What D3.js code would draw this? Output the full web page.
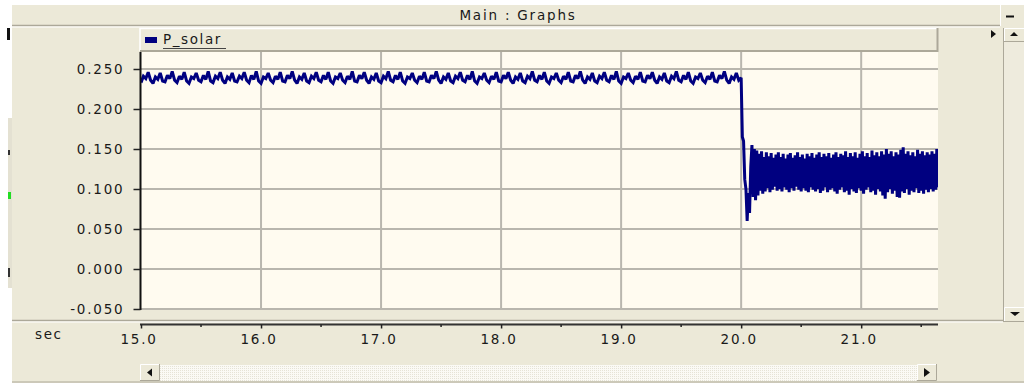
<!DOCTYPE html>
<html>
<head>
<meta charset="utf-8">
<script src="https://cdn.jsdelivr.net/npm/d3@7"></script>
<style>
  html, body { margin: 0; padding: 0; background: #ffffff; overflow: hidden; }
  svg { display: block; }
  text { font-family: "DejaVu Sans", Verdana, sans-serif; fill: #1a1a1a; }
</style>
</head>
<body>
<script>
// ---- data -------------------------------------------------------------
const seriesName = "P_solar";
const titleText = "Main : Graphs";
const xUnit = "sec";

// P_solar sampled every 0.02 s from 15.00 s to 20.00 s
const preStart = 15.0;
const preStep = 0.02;
const preValues = [
  0.233,0.241,0.238,0.246,0.236, 0.232,0.240,0.237,0.245,0.235,
  0.234,0.242,0.238,0.247,0.236, 0.233,0.241,0.237,0.246,0.235,
  0.232,0.240,0.238,0.245,0.236, 0.234,0.242,0.237,0.247,0.235,
  0.233,0.241,0.238,0.246,0.236, 0.232,0.240,0.237,0.245,0.235,
  0.234,0.241,0.238,0.246,0.236, 0.233,0.242,0.237,0.247,0.235,
  0.232,0.240,0.238,0.245,0.236, 0.233,0.241,0.237,0.246,0.235,
  0.234,0.242,0.238,0.247,0.236, 0.232,0.240,0.237,0.245,0.235,
  0.233,0.241,0.238,0.246,0.236, 0.234,0.242,0.237,0.246,0.235,
  0.232,0.240,0.238,0.245,0.236, 0.233,0.241,0.237,0.247,0.235,
  0.234,0.242,0.238,0.246,0.236, 0.232,0.240,0.237,0.245,0.235,
  0.233,0.241,0.238,0.247,0.236, 0.234,0.242,0.237,0.246,0.235,
  0.232,0.240,0.238,0.245,0.236, 0.233,0.241,0.237,0.246,0.235,
  0.234,0.242,0.238,0.247,0.236, 0.232,0.240,0.237,0.245,0.235,
  0.233,0.241,0.238,0.246,0.236, 0.234,0.242,0.237,0.247,0.235,
  0.232,0.240,0.238,0.245,0.236, 0.233,0.241,0.237,0.246,0.235,
  0.234,0.242,0.238,0.246,0.236, 0.232,0.240,0.237,0.245,0.235,
  0.233,0.241,0.238,0.247,0.236, 0.234,0.242,0.237,0.246,0.235,
  0.232,0.240,0.238,0.245,0.236, 0.233,0.241,0.237,0.246,0.235,
  0.234,0.242,0.238,0.247,0.236, 0.232,0.240,0.237,0.245,0.235,
  0.233,0.241,0.238,0.246,0.236, 0.234,0.242,0.237,0.247,0.235,
  0.232,0.240,0.238,0.245,0.236, 0.233,0.241,0.237,0.246,0.235,
  0.234,0.242,0.238,0.246,0.236, 0.232,0.240,0.237,0.245,0.235,
  0.233,0.241,0.238,0.247,0.236, 0.234,0.242,0.237,0.246,0.235,
  0.232,0.240,0.238,0.245,0.236, 0.233,0.241,0.237,0.246,0.235,
  0.234,0.242,0.238,0.247,0.236, 0.232,0.240,0.237,0.245,0.236,
  0.239
];

// P_solar sampled every 0.01 s from 20.01 s to 21.64 s (after the drop)
const postStart = 20.01;
const postStep = 0.01;
const postValues = [
  0.165,0.160,0.112,0.100,0.060,0.095,0.070,0.128,0.155,0.090,0.150,0.086,0.148,0.092,
  0.144,0.098, 0.147,0.094, 0.140,0.097, 0.146,0.101, 0.141,0.096,
  0.145,0.099, 0.139,0.103, 0.143,0.098, 0.146,0.100, 0.140,0.097,
  0.144,0.102, 0.138,0.099, 0.143,0.096, 0.145,0.101, 0.139,0.098,
  0.142,0.103, 0.146,0.099, 0.140,0.097, 0.143,0.101, 0.138,0.098,
  0.144,0.096, 0.141,0.102, 0.145,0.099, 0.139,0.097, 0.143,0.100,
  0.146,0.095, 0.140,0.098, 0.144,0.102, 0.141,0.096, 0.145,0.099,
  0.139,0.101, 0.143,0.097, 0.146,0.094, 0.140,0.099, 0.144,0.102,
  0.142,0.096, 0.147,0.098, 0.140,0.093, 0.145,0.100, 0.141,0.097,
  0.146,0.095, 0.139,0.101, 0.144,0.098, 0.147,0.094, 0.141,0.099,
  0.145,0.102, 0.140,0.096, 0.148,0.098, 0.142,0.093, 0.146,0.100,
  0.141,0.097, 0.147,0.092, 0.143,0.088, 0.150,0.096, 0.144,0.100,
  0.147,0.094, 0.141,0.098, 0.146,0.090, 0.143,0.089, 0.149,0.097,
  0.152,0.095, 0.144,0.100, 0.147,0.093, 0.142,0.098, 0.146,0.096,
  0.141,0.101, 0.149,0.095, 0.144,0.098, 0.147,0.094, 0.142,0.099,
  0.146,0.096, 0.143,0.100, 0.147,0.097, 0.144,0.099, 0.150,0.102
];

const yTicks = [-0.05, 0.0, 0.05, 0.10, 0.15, 0.20, 0.25];
const yTickLabels = ["-0.050", "0.000", "0.050", "0.100", "0.150", "0.200", "0.250"];
const xTicks = [15, 16, 17, 18, 19, 20, 21];
const xTickLabels = ["15.0", "16.0", "17.0", "18.0", "19.0", "20.0", "21.0"];
const xMinorTicks = [15.5, 16.5, 17.5, 18.5, 19.5, 20.5, 21.5];

// ---- layout & colours ---------------------------------------------------
const W = 1024, H = 383;
const plot = { left: 141, right: 938, top: 52, bottom: 310 };
const panelFill = "#ECE9D8";
const plotFill = "#FFFBF0";
const gridColor = "#B9B6AE";
const shadow = "#ACA899";
const traceColor = "#000080";

const svg = d3.select("body").append("svg")
  .attr("width", W).attr("height", H);

const x = d3.scaleLinear().domain([15, 21.64]).range([plot.left, plot.right]);
const y = d3.scaleLinear().domain([-0.05, 0.25]).range([309, 69]);

// ---- window chrome -----------------------------------------------------
svg.append("rect").attr("x", 0).attr("y", 0).attr("width", W).attr("height", H).attr("fill", "#ffffff");
svg.append("rect").attr("x", 12).attr("y", 5).attr("width", W - 12).attr("height", H - 5).attr("fill", panelFill);

// left edge fragments of a neighbouring window
svg.append("rect").attr("x", 8).attr("y", 118).attr("width", 4).attr("height", 170).attr("fill", "#E4E1D2");
svg.append("rect").attr("x", 7).attr("y", 28).attr("width", 3).attr("height", 12).attr("fill", "#111");
svg.append("rect").attr("x", 8).attr("y", 192).attr("width", 3).attr("height", 7).attr("fill", "#22dd22");
svg.append("rect").attr("x", 8).attr("y", 150).attr("width", 2).attr("height", 5).attr("fill", "#333");
svg.append("rect").attr("x", 8).attr("y", 268).attr("width", 2).attr("height", 9).attr("fill", "#333");

// title bar
svg.append("text").attr("x", 518).attr("y", 20).attr("text-anchor", "middle")
  .attr("font-size", "13.5px").attr("letter-spacing", "1.8px").text(titleText);
svg.append("line").attr("x1", 12).attr("x2", 1000).attr("y1", 25.5).attr("y2", 25.5)
  .attr("stroke", shadow).attr("stroke-width", 1.5);
svg.append("line").attr("x1", 12).attr("x2", 1000).attr("y1", 27).attr("y2", 27)
  .attr("stroke", "#ffffff").attr("stroke-width", 1);

// minimise button
svg.append("rect").attr("x", 1000).attr("y", 5).attr("width", 24).attr("height", 21).attr("fill", panelFill);
svg.append("line").attr("x1", 1000.5).attr("x2", 1000.5).attr("y1", 5).attr("y2", 26).attr("stroke", "#ffffff");
svg.append("rect").attr("x", 1006).attr("y", 15.5).attr("width", 8).attr("height", 2).attr("fill", "#111");

// legend bar
const legend = svg.append("g");
legend.append("rect").attr("x", 140).attr("y", 28).attr("width", plot.right - 140).attr("height", 24)
  .attr("fill", panelFill);
legend.append("path").attr("d", `M140,51 L140,28.5 L${plot.right},28.5`)
  .attr("fill", "none").attr("stroke", "#ffffff").attr("stroke-width", 1.5);
legend.append("path").attr("d", `M140,51 L${plot.right - 0.5},51 L${plot.right - 0.5},28`)
  .attr("fill", "none").attr("stroke", shadow).attr("stroke-width", 2);
legend.append("rect").attr("x", 145).attr("y", 37).attr("width", 12).attr("height", 6).attr("fill", traceColor);
legend.append("text").attr("x", 163).attr("y", 44).attr("font-size", "13.5px")
  .attr("letter-spacing", "1.6px").text(seriesName);
legend.append("line").attr("x1", 163).attr("x2", 226).attr("y1", 48.5).attr("y2", 48.5)
  .attr("stroke", "#444").attr("stroke-width", 1);

// small arrow at right of legend bar
svg.append("path").attr("d", "M991,30 L996,34 L991,38 Z").attr("fill", "#111");

// vertical scrollbar
const vs = svg.append("g");
vs.append("rect").attr("x", 1003).attr("y", 28).attr("width", 21).attr("height", 294).attr("fill", "#EEEBDD");
vs.append("line").attr("x1", 1003.5).attr("x2", 1003.5).attr("y1", 28).attr("y2", 322).attr("stroke", shadow);
[[28, 14], [307, 15]].forEach(([by, bh]) => {
  vs.append("rect").attr("x", 1004).attr("y", by).attr("width", 20).attr("height", bh).attr("fill", panelFill);
  vs.append("path").attr("d", `M1004.5,${by + bh} L1004.5,${by + 0.5} L1024,${by + 0.5}`)
    .attr("fill", "none").attr("stroke", "#ffffff");
  vs.append("line").attr("x1", 1004).attr("x2", 1024).attr("y1", by + bh - 0.5).attr("y2", by + bh - 0.5)
    .attr("stroke", shadow);
});
vs.append("path").attr("d", "M1010,36 L1018,36 L1014,32 Z").attr("fill", "#111");
vs.append("path").attr("d", "M1010,312 L1020,312 L1015,316 Z").attr("fill", "#111");

// ---- plot area -----------------------------------------------------------
svg.append("rect").attr("x", plot.left).attr("y", plot.top)
  .attr("width", plot.right - plot.left).attr("height", plot.bottom - plot.top)
  .attr("fill", plotFill);

const grid = svg.append("g");
grid.selectAll("line.v").data(xTicks.filter(d => d > 15)).join("line")
  .attr("x1", d => x(d)).attr("x2", d => x(d))
  .attr("y1", plot.top).attr("y2", plot.bottom)
  .attr("stroke", gridColor).attr("stroke-width", 2);
grid.selectAll("line.h").data(yTicks).join("line")
  .attr("x1", plot.left).attr("x2", plot.right)
  .attr("y1", d => y(d)).attr("y2", d => y(d))
  .attr("stroke", gridColor).attr("stroke-width", 2);

// trace
const points = preValues.map((v, i) => [preStart + i * preStep, v])
  .concat(postValues.map((v, i) => [postStart + i * postStep, v]));

svg.append("clipPath").attr("id", "plotClip").append("rect")
  .attr("x", plot.left).attr("y", plot.top)
  .attr("width", plot.right - plot.left).attr("height", plot.bottom - plot.top);

const line = d3.line().x(d => x(d[0])).y(d => y(d[1]));
svg.append("path").datum(points)
  .attr("clip-path", "url(#plotClip)")
  .attr("d", line)
  .attr("fill", "none")
  .attr("stroke", traceColor)
  .attr("stroke-width", 3)
  .attr("stroke-linejoin", "miter")
  .attr("stroke-miterlimit", 2);

// y axis
const yAxis = d3.axisLeft(y).tickValues(yTicks).tickSize(7).tickPadding(9)
  .tickFormat((d, i) => yTickLabels[i]);
const yG = svg.append("g").attr("transform", `translate(${plot.left - 0.5},0)`).call(yAxis);
yG.select(".domain").attr("d", `M0,${plot.top}V${plot.bottom}`).attr("stroke", "#111").attr("stroke-width", 2);
yG.selectAll(".tick line").attr("stroke", "#222").attr("stroke-width", 1.5);
yG.selectAll(".tick text")
  .attr("font-family", "DejaVu Sans, Verdana, sans-serif")
  .attr("font-size", "13.5px").attr("letter-spacing", "1.8px")
  .attr("fill", "#1a1a1a").attr("dy", "0.34em");

// ---- bottom time axis ----------------------------------------------------
svg.append("line").attr("x1", 12).attr("x2", 1003).attr("y1", 320.5).attr("y2", 320.5)
  .attr("stroke", shadow).attr("stroke-width", 1.5);
svg.append("line").attr("x1", 12).attr("x2", 1003).attr("y1", 322).attr("y2", 322)
  .attr("stroke", "#ffffff").attr("stroke-width", 1);

const axisY = 324.5;
const xAxis = d3.axisBottom(x).tickValues(xTicks).tickSize(4).tickPadding(6)
  .tickFormat((d, i) => xTickLabels[i]);
const xG = svg.append("g").attr("transform", `translate(0,${axisY})`).call(xAxis);
xG.select(".domain").attr("d", `M${plot.left - 1},0H${plot.right}`).attr("stroke", "#333").attr("stroke-width", 2);
xG.selectAll(".tick line").attr("stroke", "#222").attr("stroke-width", 1.5);
xG.selectAll(".tick text")
  .attr("font-family", "DejaVu Sans, Verdana, sans-serif")
  .attr("font-size", "13.5px").attr("letter-spacing", "1.8px")
  .attr("fill", "#1a1a1a").attr("dx", -2.5);
xG.selectAll("line.minor").data(xMinorTicks).join("line")
  .attr("class", "minor")
  .attr("x1", d => x(d)).attr("x2", d => x(d))
  .attr("y1", 0).attr("y2", 2.5)
  .attr("stroke", "#222").attr("stroke-width", 1.5);

svg.append("text").attr("x", 35).attr("y", 339).attr("font-size", "13.5px")
  .attr("letter-spacing", "1.6px").text(xUnit);

// horizontal scrollbar
const hs = svg.append("g");
const defs = svg.append("defs");
const pat = defs.append("pattern").attr("id", "track").attr("width", 2).attr("height", 2)
  .attr("patternUnits", "userSpaceOnUse");
pat.append("rect").attr("width", 2).attr("height", 2).attr("fill", "#FBFAF5");
pat.append("rect").attr("width", 1).attr("height", 1).attr("fill", "#E6E3D6");
hs.append("rect").attr("x", 160).attr("y", 365).attr("width", 757).attr("height", 16).attr("fill", "url(#track)");
[[140, 20], [917, 20]].forEach(([bx, bw]) => {
  hs.append("rect").attr("x", bx).attr("y", 364).attr("width", bw).attr("height", 17).attr("fill", panelFill);
  hs.append("path").attr("d", `M${bx + 0.5},381 L${bx + 0.5},364.5 L${bx + bw},364.5`)
    .attr("fill", "none").attr("stroke", "#ffffff");
  hs.append("path").attr("d", `M${bx},380.5 L${bx + bw - 0.5},380.5 L${bx + bw - 0.5},364`)
    .attr("fill", "none").attr("stroke", shadow);
});
hs.append("path").attr("d", "M152,368.5 L147,372.5 L152,376.5 Z").attr("fill", "#111");
hs.append("path").attr("d", "M924,368 L930,372.5 L924,377 Z").attr("fill", "#111");
svg.append("line").attr("x1", 12).attr("x2", W).attr("y1", 382).attr("y2", 382)
  .attr("stroke", shadow).attr("stroke-width", 1);
</script>
</body>
</html>
